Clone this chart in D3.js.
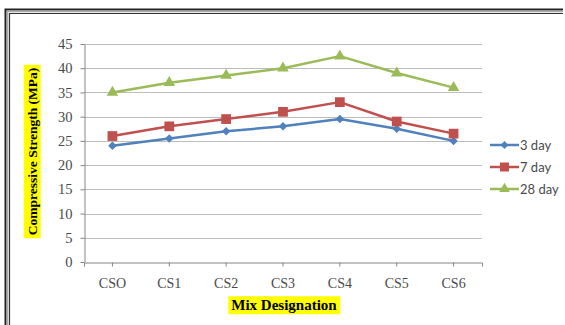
<!DOCTYPE html>
<html>
<head>
<meta charset="utf-8">
<script src="https://cdn.jsdelivr.net/npm/d3@7"></script>
<style>
  html, body { margin: 0; padding: 0; background: #fff; }
  svg { display: block; }
</style>
</head>
<body>
<svg id="chart" width="565" height="325"></svg>
<script>
// Mix designations and compressive strength (MPa) by curing age
const categories = ["CSO", "CS1", "CS2", "CS3", "CS4", "CS5", "CS6"];
const day3  = [24, 25.5, 27, 28, 29.5, 27.5, 25];
const day7  = [26, 28, 29.5, 31, 33, 29, 26.5];
const day28 = [35, 37, 38.5, 40, 42.5, 39, 36];
const seriesNames = ["3 day", "7 day", "28 day"];
const yTicks = [0, 5, 10, 15, 20, 25, 30, 35, 40, 45];

const series = [
  { name: seriesNames[0], values: day3,  color: "#4F81BD", symbol: d3.symbolSquare,   size: 36, rot: 45 },
  { name: seriesNames[1], values: day7,  color: "#C0504D", symbol: d3.symbolSquare,   size: 95, rot: 0 },
  { name: seriesNames[2], values: day28, color: "#9BBB59", symbol: d3.symbolTriangle, size: 58, rot: 0 }
];

const svg = d3.select("#chart");
const serif = "'Liberation Serif', 'Times New Roman', serif";

// Double frame around the figure
const frame = svg.append("g");
frame.append("path").attr("d", "M5.5,325 V9.5 H563")
  .attr("fill", "none").attr("stroke", "#222").attr("stroke-width", 2);
frame.append("path").attr("d", "M7.5,325 V11.5 H563")
  .attr("fill", "none").attr("stroke", "#aaa").attr("stroke-width", 1.5);
frame.append("path").attr("d", "M9.5,325 V13.5 H563")
  .attr("fill", "none").attr("stroke", "#333").attr("stroke-width", 1.2);

const plotLeft = 84, plotRight = 482, plotTop = 44, plotBottom = 262;

const x = d3.scaleBand().domain(categories).range([plotLeft, plotRight]).padding(0);
const y = d3.scaleLinear().domain([0, 45]).range([plotBottom, plotTop]);
const cx = c => x(c) + x.bandwidth() / 2;

// Horizontal gridlines
svg.append("g")
  .selectAll("line")
  .data(yTicks.filter(t => t > 0))
  .join("line")
  .attr("x1", plotLeft).attr("x2", plotRight)
  .attr("y1", d => Math.round(y(d)) + 0.5).attr("y2", d => Math.round(y(d)) + 0.5)
  .attr("stroke", "#bdbdbd").attr("stroke-width", 1);

// Y axis
const yAxis = svg.append("g")
  .attr("transform", `translate(${plotLeft + 0.5},0)`)
  .call(d3.axisLeft(y).tickValues(yTicks).tickSize(4).tickSizeOuter(0).tickPadding(8));
yAxis.select(".domain").attr("stroke", "#868686");
yAxis.selectAll(".tick line").attr("stroke", "#868686");
yAxis.selectAll("text")
  .attr("font-family", serif).attr("font-size", 14.5).attr("fill", "#4a4a4a");

// X axis
const xAxis = svg.append("g")
  .attr("transform", `translate(0,${plotBottom + 0.5})`)
  .call(d3.axisBottom(x).tickSize(4).tickSizeOuter(4).tickPadding(12));
xAxis.select(".domain").attr("stroke", "#868686");
xAxis.selectAll(".tick line").attr("stroke", "#868686");
xAxis.selectAll("text")
  .attr("font-family", serif).attr("font-size", 14).attr("fill", "#4a4a4a");

// Series lines and markers
const line = d3.line().x((d, i) => cx(categories[i])).y(d => y(d));

series.forEach(s => {
  svg.append("path")
    .datum(s.values)
    .attr("d", line)
    .attr("fill", "none")
    .attr("stroke", s.color)
    .attr("stroke-width", 2.5)
    .attr("stroke-linejoin", "round");
  svg.append("g")
    .selectAll("path")
    .data(s.values)
    .join("path")
    .attr("transform", (d, i) => `translate(${cx(categories[i])},${y(d)}) rotate(${s.rot})`)
    .attr("d", d3.symbol().type(s.symbol).size(s.size))
    .attr("fill", s.color);
});

// Legend
const legend = svg.append("g");
series.forEach((s, i) => {
  const ly = 145 + i * 22;
  legend.append("line")
    .attr("x1", 490).attr("x2", 519).attr("y1", ly).attr("y2", ly)
    .attr("stroke", s.color).attr("stroke-width", 2.5);
  legend.append("path")
    .attr("transform", `translate(504.5,${ly}) rotate(${s.rot})`)
    .attr("d", d3.symbol().type(s.symbol).size(s.size * 0.85))
    .attr("fill", s.color);
  legend.append("text")
    .attr("x", 520).attr("y", ly)
    .attr("dy", "0.35em")
    .attr("font-family", "Lato, 'Open Sans', sans-serif")
    .attr("font-size", 13)
    .attr("fill", "#4a4a4a")
    .text(s.name);
});

// Axis titles with highlighted backgrounds
function highlightedTitle(text, tx, ty, rotate, size) {
  const g = svg.append("g").attr("transform", `translate(${tx},${ty}) rotate(${rotate})`);
  const bg = g.append("rect").attr("fill", "#FFFF00");
  const t = g.append("text")
    .attr("text-anchor", "middle")
    .attr("dy", "0.35em")
    .attr("font-family", serif)
    .attr("font-weight", "bold")
    .attr("font-size", size)
    .attr("fill", "#000")
    .text(text);
  const b = t.node().getBBox();
  bg.attr("x", b.x - 3).attr("y", b.y - 1).attr("width", b.width + 6).attr("height", b.height + 2);
}

highlightedTitle("Compressive Strength (MPa)", 32, 151.5, -90, 13.5);
highlightedTitle("Mix Designation", 284, 305, 0, 15);
</script>
</body>
</html>
